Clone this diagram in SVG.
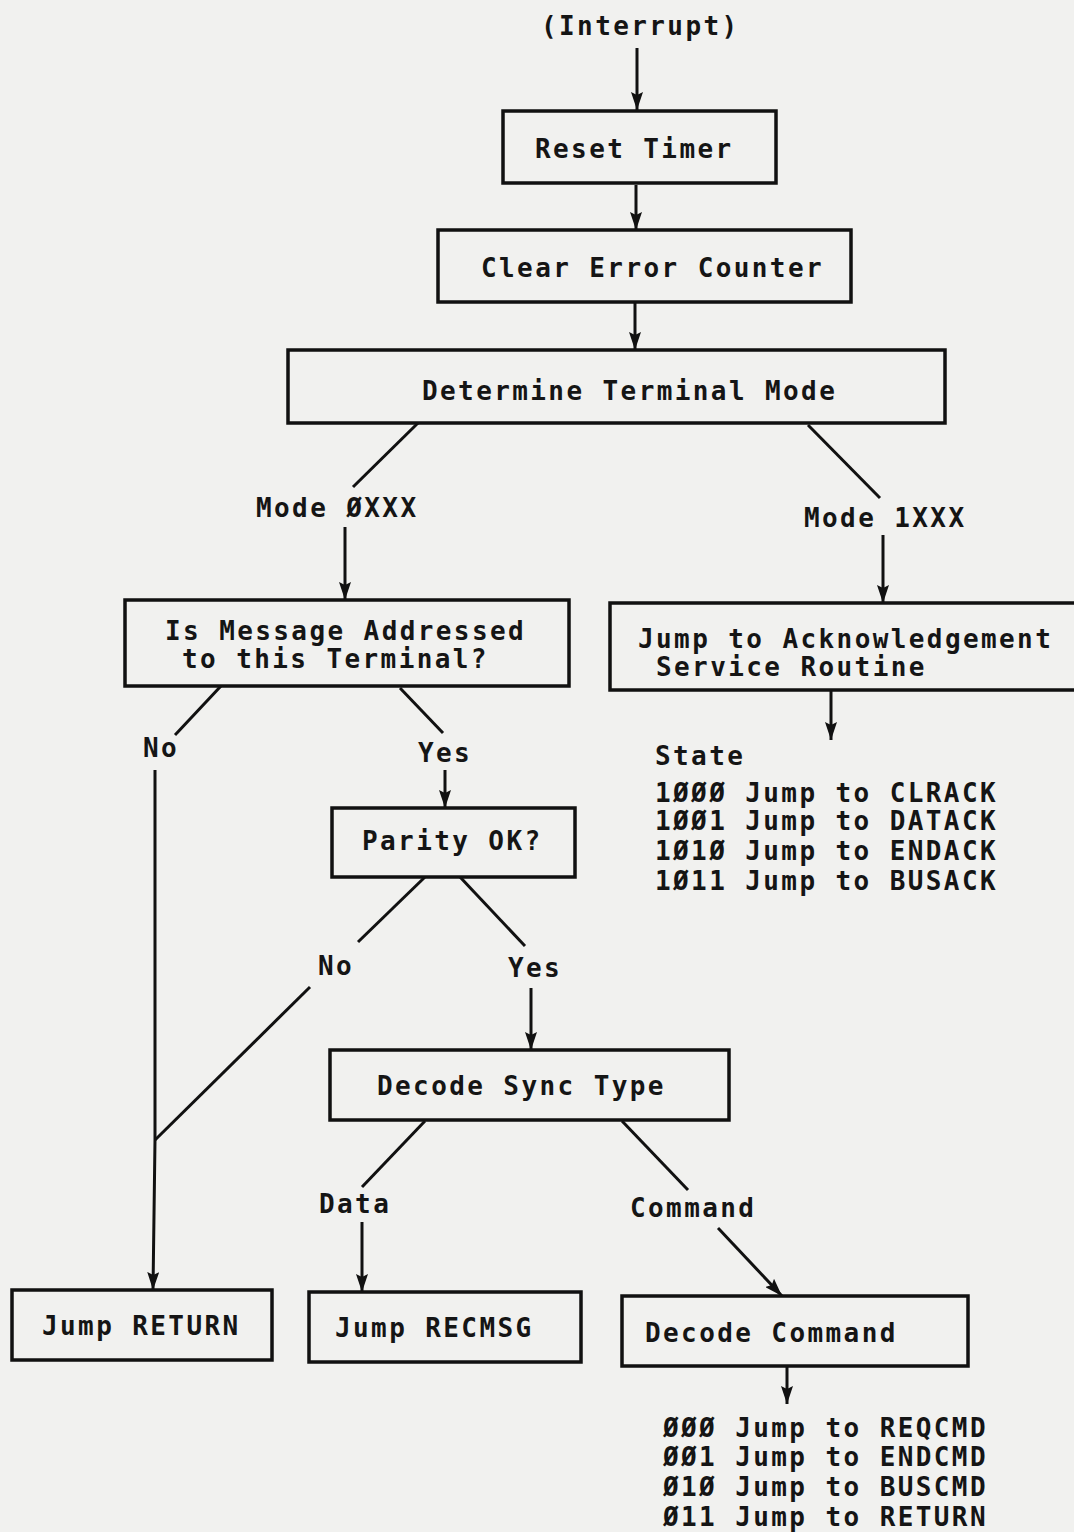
<svg xmlns="http://www.w3.org/2000/svg" width="1074" height="1532" viewBox="0 0 1074 1532">
<defs>
<marker id="ah" viewBox="0 0 18 12" markerWidth="18" markerHeight="12" refX="18" refY="6" orient="auto" markerUnits="userSpaceOnUse">
<path d="M0,0 L18,6 L0,12 L3,6 z" fill="#111"/>
</marker>
<style>
.box{fill:none;stroke:#111;stroke-width:3.5}
.ln{fill:none;stroke:#111;stroke-width:3}
.ar{fill:none;stroke:#111;stroke-width:3;marker-end:url(#ah)}
text{font-family:"DejaVu Sans Mono","Liberation Mono",monospace;font-size:26px;font-weight:bold;letter-spacing:2.4px;fill:#151515}
</style>
</defs>
<rect width="1074" height="1532" fill="#f1f1ef"/>
<g id="connectors">
<line class="ar" x1="637" y1="48" x2="637" y2="110"/>
<line class="ar" x1="636" y1="185" x2="636" y2="230"/>
<line class="ar" x1="635" y1="302" x2="635" y2="350"/>
<line class="ln" x1="418" y1="423" x2="353" y2="487"/>
<line class="ar" x1="345" y1="527" x2="345" y2="600"/>
<line class="ln" x1="808" y1="425" x2="880" y2="498"/>
<line class="ar" x1="883" y1="535" x2="883" y2="603"/>
<line class="ar" x1="831" y1="690" x2="831" y2="740"/>
<line class="ln" x1="221" y1="686" x2="175" y2="735"/>
<polyline class="ar" points="155,770 155,1140 153,1290"/>
<line class="ln" x1="400" y1="688" x2="443" y2="733"/>
<line class="ar" x1="445" y1="770" x2="445" y2="808"/>
<line class="ln" x1="425" y1="877" x2="358" y2="942"/>
<line class="ln" x1="460" y1="877" x2="525" y2="946"/>
<line class="ar" x1="531" y1="988" x2="531" y2="1050"/>
<line class="ln" x1="310" y1="987" x2="155" y2="1140"/>
<line class="ln" x1="425" y1="1121" x2="362" y2="1187"/>
<line class="ar" x1="362" y1="1222" x2="362" y2="1292"/>
<line class="ln" x1="622" y1="1121" x2="688" y2="1190"/>
<line class="ar" x1="718" y1="1228" x2="782" y2="1296"/>
<line class="ar" x1="787" y1="1366" x2="787" y2="1404"/>
</g>
<text id="start" x="541" y="35">(Interrupt)</text>
<g id="reset-timer">
<rect class="box" x="503" y="111" width="273" height="72"/>
<text x="535" y="158">Reset Timer</text>
</g>
<g id="clear-error">
<rect class="box" x="438" y="230" width="413" height="72"/>
<text x="481" y="277">Clear Error Counter</text>
</g>
<g id="determine-mode">
<rect class="box" x="288" y="350" width="657" height="73"/>
<text x="422" y="400">Determine Terminal Mode</text>
</g>
<g id="labels">
<text x="256" y="517">Mode ØXXX</text>
<text x="804" y="527">Mode 1XXX</text>
<text x="143" y="757">No</text>
<text x="418" y="762">Yes</text>
<text x="318" y="975">No</text>
<text x="508" y="977">Yes</text>
<text x="319" y="1213">Data</text>
<text x="630" y="1217">Command</text>
</g>
<g id="addressed">
<rect class="box" x="125" y="600" width="444" height="86"/>
<text x="165" y="640">Is Message Addressed</text>
<text x="182" y="668">to this Terminal?</text>
</g>
<g id="ack-service">
<rect class="box" x="610" y="603" width="470" height="87"/>
<text x="638" y="648">Jump to Acknowledgement</text>
<text x="656" y="676">Service Routine</text>
</g>
<g id="state-table">
<text x="655" y="765">State</text>
<text x="655" y="802">1ØØØ Jump to CLRACK</text>
<text x="655" y="830">1ØØ1 Jump to DATACK</text>
<text x="655" y="860">1Ø1Ø Jump to ENDACK</text>
<text x="655" y="890">1Ø11 Jump to BUSACK</text>
</g>
<g id="parity">
<rect class="box" x="332" y="808" width="243" height="69"/>
<text x="362" y="850">Parity OK?</text>
</g>
<g id="decode-sync">
<rect class="box" x="330" y="1050" width="399" height="70"/>
<text x="377" y="1095">Decode Sync Type</text>
</g>
<g id="jump-return">
<rect class="box" x="12" y="1290" width="260" height="70"/>
<text x="42" y="1335">Jump RETURN</text>
</g>
<g id="jump-recmsg">
<rect class="box" x="309" y="1292" width="272" height="70"/>
<text x="335" y="1337">Jump RECMSG</text>
</g>
<g id="decode-command">
<rect class="box" x="622" y="1296" width="346" height="70"/>
<text x="645" y="1342">Decode Command</text>
</g>
<g id="command-table">
<text x="663" y="1437">ØØØ Jump to REQCMD</text>
<text x="663" y="1466">ØØ1 Jump to ENDCMD</text>
<text x="663" y="1496">Ø1Ø Jump to BUSCMD</text>
<text x="663" y="1526">Ø11 Jump to RETURN</text>
</g>
</svg>
